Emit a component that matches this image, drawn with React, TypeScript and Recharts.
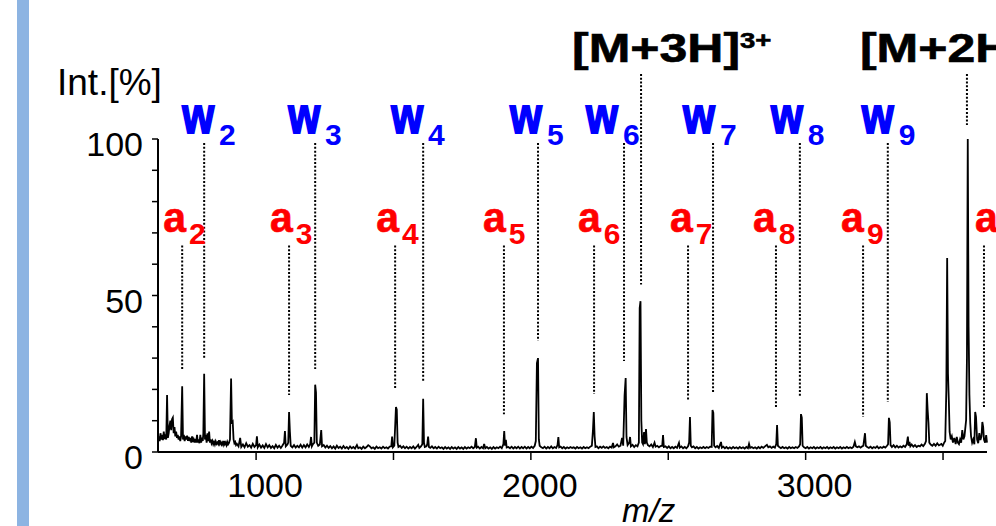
import { LineChart, Line, XAxis, YAxis, ReferenceLine, ReferenceDot } from "recharts";

const FONT = '"Liberation Sans", Arial, Helvetica, sans-serif';

// spectrum trace: [m/z, intensity %]
const traceLow: [number, number][] = [
  [643, 3], [646, 5], [649, 3.5], [652, 6], [655, 4], [658, 5.5], [661, 3.8], [664, 6.5], [667, 4.2], [670, 5],
  [673, 4], [676, 18.2], [679, 4.5], [682, 6], [685, 8.5], [688, 10], [691, 7], [694, 10.5], [697, 11], [700, 6],
  [703, 8], [706, 5], [709, 6.5], [712, 4.5], [715, 5.5], [718, 4], [721, 5], [724, 3.5], [727, 5], [731, 21],
  [734, 4], [737, 5.5], [740, 3.5], [743, 5], [746, 4], [749, 5.2], [752, 3.6], [755, 4.8], [758, 3.5], [761, 4.5],
  [764, 3], [767, 5], [770, 3.2], [773, 4], [776, 3], [779, 4.2], [782, 3], [785, 5.5], [788, 3], [791, 4],
  [794, 2.8], [797, 5.5], [800, 3], [803, 4.6], [806, 3.5], [808, 6], [811, 25], [814, 4], [817, 5.5], [820, 3],
  [823, 6], [826, 3.5], [829, 6.5], [832, 3], [835, 4], [838, 2.8], [841, 3.5], [844, 2.5], [847, 3.2], [850, 2.4],
  [853, 3.4], [856, 2.6], [859, 3], [862, 2.5], [865, 3.8], [868, 2.6], [871, 3.2], [874, 2.4], [877, 3], [880, 2.3],
  [883, 3.5], [886, 2.5], [889, 3], [892, 2.2], [895, 3.2], [898, 2.4], [901, 2.8], [905, 4], [909, 23.5], [912, 9],
  [915, 9.5], [918, 4], [921, 2.8], [924, 3.2], [927, 2.2], [930, 2.6], [936, 1.8], [942, 4.5], [946, 1.6], [952, 2.4],
  [958, 1.5], [964, 2.8], [970, 1.7], [976, 2.2], [982, 1.4], [988, 2.6], [994, 1.6], [1000, 2.2], [1003, 5], [1006, 1.5],
  [1012, 2.4], [1018, 1.4], [1024, 2.1], [1030, 1.3], [1036, 2.5], [1042, 1.5], [1048, 2.2], [1054, 1.3], [1060, 1.9], [1066, 1.2],
  [1072, 2.3], [1078, 1.4], [1084, 2], [1090, 1.3], [1096, 2.1], [1102, 3], [1105, 6.7], [1108, 1.8], [1114, 2.4], [1117, 3],
  [1120, 12.8], [1123, 6.5], [1126, 2], [1132, 1.5], [1138, 2.2], [1144, 1.4], [1150, 2], [1156, 1.5], [1162, 2.3], [1168, 1.4],
  [1174, 2.2], [1180, 1.5], [1186, 2.4], [1192, 1.6], [1197, 2.5], [1200, 4.8], [1203, 1.8], [1207, 2.5], [1212, 3], [1215, 21.5],
  [1218, 19], [1221, 3], [1226, 2], [1232, 2.4], [1237, 7], [1240, 1.8], [1246, 2.2], [1252, 1.4], [1258, 2],
];

const traceMid: [number, number][] = [
  [1264, 1.3], [1270, 1.9], [1276, 1.2], [1282, 1.8], [1288, 1.1], [1294, 2], [1300, 1.3], [1306, 1.7], [1312, 1.1], [1318, 1.9],
  [1324, 1.2], [1330, 1.6], [1336, 1], [1342, 1.8], [1348, 1.2], [1354, 1.6], [1360, 1.1], [1367, 2.2], [1372, 1.2], [1378, 1.5],
  [1384, 1], [1390, 1.7], [1396, 1.2], [1402, 1.6], [1408, 2.2], [1414, 1.8], [1420, 1.2], [1426, 1.5], [1432, 1], [1438, 1.7],
  [1444, 1.2], [1450, 1.5], [1456, 1.1], [1462, 1.7], [1468, 1.2], [1474, 1.5], [1480, 1.1], [1486, 1.7], [1492, 1.8], [1495, 4.9],
  [1498, 1.5], [1503, 2], [1506, 8], [1509, 14.4], [1512, 13.5], [1515, 3], [1518, 1.6], [1524, 2], [1530, 1.3], [1536, 1.8],
  [1542, 1.2], [1548, 1.7], [1554, 1.1], [1560, 1.6], [1566, 1.2], [1572, 1.8], [1578, 1.1], [1584, 1.6], [1590, 2.3], [1594, 1.3],
  [1600, 1.8], [1605, 2.5], [1608, 17], [1611, 3], [1614, 1.6], [1620, 1.8], [1623, 2.5], [1626, 4.9], [1629, 1.6], [1634, 1.3],
  [1640, 1.8], [1646, 1.2], [1652, 1.6], [1658, 1.1], [1664, 1.7], [1670, 1.2], [1676, 1.5], [1682, 1], [1688, 1.6], [1694, 1.1],
  [1700, 1.5], [1706, 1], [1712, 1.6], [1718, 1.1], [1724, 1.5], [1730, 1], [1736, 1.6], [1742, 1.1], [1748, 1.5], [1754, 1],
  [1760, 1.6], [1766, 1.1], [1772, 1.5], [1778, 1.2], [1784, 1.7], [1790, 1.2], [1796, 1.6], [1800, 4.4], [1803, 1.4], [1808, 1.7],
  [1814, 1.1], [1820, 1.6], [1826, 1.2], [1830, 2.6], [1834, 1.2], [1840, 1.6], [1846, 1.1], [1852, 1.5], [1858, 1], [1864, 1.6],
  [1870, 1.1], [1876, 1.5], [1882, 1.2], [1888, 1.7], [1894, 1.2], [1900, 2.5], [1903, 6.7], [1906, 2], [1909, 3.9], [1912, 1.4],
  [1918, 1.6], [1924, 1.2], [1930, 1.7], [1936, 1.1], [1942, 1.6], [1948, 1.2], [1954, 1.7], [1960, 1.1], [1966, 1.6], [1972, 1.2],
  [1978, 1.7], [1984, 1.1], [1990, 1.6], [1996, 1.2], [2002, 1.7], [2008, 1.3], [2014, 2], [2018, 3.5], [2022, 28.4], [2026, 30],
  [2029, 4], [2032, 2], [2038, 1.5], [2044, 1.2], [2050, 1.7], [2056, 1.1], [2062, 1.6], [2068, 1.2], [2074, 1.8], [2080, 1.2],
  [2086, 1.6], [2092, 1.3], [2097, 2.2], [2100, 4.8], [2103, 1.5], [2108, 1.7], [2114, 1.2], [2120, 1.6], [2126, 1.1], [2132, 1.5],
  [2138, 1.2], [2144, 1.6], [2150, 1.3], [2156, 1.5], [2162, 1.1], [2168, 1.6], [2174, 1.2], [2180, 1.5], [2186, 1.1], [2192, 1.6],
  [2198, 1.2], [2204, 1.5], [2210, 1.2], [2216, 1.7], [2222, 2], [2226, 7], [2229, 12.8], [2232, 5], [2235, 1.6], [2240, 1.8],
  [2246, 1.2], [2252, 1.7], [2258, 1.3], [2264, 1.8], [2270, 1.3], [2276, 1.6], [2282, 1.2], [2288, 1.7], [2294, 1.4], [2299, 2.9],
  [2302, 1.5], [2308, 1.8], [2314, 2.4], [2320, 1.7], [2326, 2], [2332, 4.5], [2336, 2], [2341, 18], [2345, 23.6], [2348, 4.8],
  [2352, 2.2], [2358, 3], [2361, 4.8], [2364, 1.8], [2370, 2.3], [2376, 1.6], [2382, 2.2], [2388, 1.8], [2393, 3], [2396, 46],
  [2399, 48.2], [2402, 10], [2405, 3], [2408, 2.5], [2412, 6.4], [2415, 2.5], [2419, 7.3], [2422, 3], [2426, 2.2], [2432, 1.8],
  [2438, 2.4], [2444, 1.6], [2450, 3], [2454, 1.7], [2460, 2], [2466, 1.5], [2472, 1.9], [2478, 2], [2481, 5.4], [2484, 1.6],
  [2490, 1.8],
];

const traceHigh: [number, number][] = [
  [2496, 1.3], [2502, 1.8], [2508, 1.2], [2514, 1.6], [2520, 1.2], [2526, 1.7], [2532, 1.3], [2539, 2.9], [2542, 1.4], [2548, 1.8],
  [2554, 1.2], [2560, 1.6], [2566, 1.2], [2572, 1.8], [2576, 3], [2579, 11.2], [2582, 2], [2586, 1.5], [2592, 1.8], [2598, 1.2],
  [2604, 1.6], [2610, 1.1], [2616, 1.5], [2622, 1.2], [2628, 1.6], [2634, 1.2], [2640, 1.6], [2646, 1.3], [2652, 1.7], [2658, 1.6],
  [2661, 13.4], [2664, 12.5], [2667, 2], [2672, 1.5], [2678, 1.9], [2684, 1.3], [2692, 3.2], [2695, 1.4], [2700, 1.7], [2706, 1.2],
  [2712, 1.6], [2718, 1.1], [2724, 1.5], [2730, 1.1], [2736, 1.6], [2742, 1.2], [2748, 1.5], [2754, 1.1], [2760, 1.6], [2766, 1.2],
  [2772, 1.5], [2778, 1.1], [2784, 1.6], [2790, 1.2], [2794, 2.6], [2798, 1.3], [2804, 1.6], [2810, 1.2], [2816, 1.5], [2822, 1.1],
  [2828, 1.6], [2834, 1.2], [2840, 1.7], [2846, 1.3], [2852, 1.8], [2859, 2.3], [2864, 1.5], [2870, 1.8], [2876, 1.3], [2882, 1.7],
  [2888, 1.4], [2893, 2.5], [2896, 8.6], [2899, 2], [2904, 1.6], [2910, 1.2], [2916, 1.6], [2922, 1.2], [2928, 1.5], [2934, 1.1],
  [2940, 1.6], [2946, 1.2], [2952, 1.5], [2958, 1.2], [2964, 1.6], [2970, 1.3], [2976, 1.8], [2980, 2.5], [2983, 12.1], [2986, 11],
  [2989, 2], [2994, 1.5], [3000, 1.2], [3006, 1.6], [3012, 1.1], [3018, 1.5], [3024, 1.2], [3030, 1.6], [3036, 1.1], [3042, 1.5],
  [3048, 1.2], [3054, 1.6], [3060, 1.1], [3066, 1.5], [3072, 1.2], [3078, 1.6], [3084, 1.1], [3090, 1.5], [3096, 1.2], [3102, 1.6],
  [3108, 1.1], [3114, 1.5], [3120, 1.2], [3126, 1.6], [3132, 1.1], [3138, 1.5], [3144, 1.2], [3150, 1.6], [3156, 1.2], [3162, 1.5],
  [3168, 1.2], [3174, 1.7], [3179, 3.2], [3183, 1.8], [3188, 1.5], [3194, 1.8], [3200, 1.4], [3206, 1.8], [3210, 2], [3213, 4],
  [3216, 6], [3219, 2], [3224, 1.6], [3230, 1.3], [3236, 1.7], [3242, 1.2], [3248, 1.6], [3254, 1.3], [3260, 1.8], [3266, 1.2],
  [3272, 1.6], [3278, 1.3], [3284, 1.7], [3290, 1.4], [3296, 2], [3300, 2.5], [3303, 10.9], [3306, 9.5], [3309, 2.2], [3314, 1.6],
  [3320, 2.2], [3326, 1.5], [3332, 2], [3338, 1.4], [3344, 1.8], [3350, 1.5], [3356, 2], [3362, 1.6], [3368, 2.5], [3372, 4.9],
  [3375, 2], [3378, 3.2], [3381, 1.8], [3386, 2.4], [3392, 1.7], [3398, 2.2], [3404, 1.6], [3410, 2], [3416, 1.8], [3422, 2.4],
  [3428, 1.9], [3434, 2.6], [3438, 3.5], [3441, 18.8], [3444, 13.4], [3447, 9.3], [3450, 3], [3455, 2.4], [3461, 2], [3467, 2.6],
  [3473, 2], [3479, 2.8], [3485, 2.1], [3489, 2.3], [3494, 2.6], [3499, 2], [3504, 3], [3508, 3.5], [3512, 20], [3515, 62],
  [3518, 25], [3521, 16.6], [3524, 6.4], [3528, 4], [3532, 5], [3536, 3], [3541, 4.5], [3546, 2.5], [3550, 4.8], [3554, 3],
  [3558, 2.5], [3562, 4], [3566, 3], [3570, 7], [3574, 4], [3578, 5], [3584, 10.2], [3587, 30], [3590, 100], [3593, 40],
  [3596, 18.2], [3599, 9.3], [3602, 5], [3606, 3], [3610, 4], [3614, 2.5], [3617, 12.8], [3620, 11.2], [3624, 4], [3628, 2.8],
  [3632, 6], [3636, 3.8], [3640, 5], [3643, 9.6], [3646, 8], [3649, 4], [3653, 3], [3657, 5.4], [3660, 3],
];

// fragment ions
const wNumbers = ["2", "3", "4", "5", "6", "7", "8", "9"];
const wMz = [811, 1215, 1608, 2026, 2339, 2663, 2979, 3299];
const wPeaks = [25.5, 22, 18, 31, 24.6, 14.3, 13, 11.5];

const aNumbers = ["2", "3", "4", "5", "6", "7", "8", "9", "10"];
const aMz = [731, 1120, 1506, 1902, 2230, 2572, 2892, 3209, 3649];
const aPeaks = [22, 13.7, 15.6, 7.6, 14, 12, 9.5, 6.7, 9.6];

const parentNames = ["[M+3H]", "[M+2H]"];
const parentCharges = ["3+", "2+"];
const parentMz = [2401, 3587];
const parentPeaks = [49, 100];

const xTicks = [1000, 1500, 2000, 2500, 3000, 3500];
const xTickLabels = ["1000", "", "2000", "", "3000", ""];
const yTicks = [0, 10, 20, 30, 40, 50, 60, 70, 80, 90, 100];
const yTickLabels = ["0", "", "", "", "", "50", "", "", "", "", "100"];

// layout of the annotation rows (in intensity units) and label nudges (px)
const W_TOP = 98.7;
const A_TOP = 66;
const ION_TOP = 120.8;
const GAP = 4.5;
const wShift = [-22, -27, -32, -28, -38, -30, -29, -26];
const aShift = [-19, -19, -19, -21, -16, -18, -23, -22, -9];
const ionShift = [-69, -107];

const spectrum = [...traceLow, ...traceMid, ...traceHigh].map(([mz, i]) => ({ mz, i }));

type Ion = { letter: string; sub: string; mz: number; peak: number; top: number; shift: number; color: string };

const ions: Ion[] = [
  ...wMz.map((mz, k) => ({ letter: "w", sub: wNumbers[k], mz, peak: wPeaks[k], top: W_TOP, shift: wShift[k], color: "#0000ff" })),
  ...aMz.map((mz, k) => ({ letter: "a", sub: aNumbers[k], mz, peak: aPeaks[k], top: A_TOP, shift: aShift[k], color: "#ff0000" })),
];

function IonLabel({ cx, cy, ion }: { cx: number; cy: number; ion: Ion }) {
  const isW = ion.letter === "w";
  const x = cx + ion.shift;
  const base = cy + (isW ? -10 : -13.5);
  const adv = isW ? 31.9 + 5 : 22.8 + 3;
  return (
    <g>
      <text
        transform={`translate(${x},${base}) scale(1,${isW ? 1.22 : 1.06})`}
        fontSize={41}
        fontWeight={700}
        fill={ion.color}
        stroke={ion.color}
        strokeWidth={isW ? 1.6 : 0.6}
        fontFamily={FONT}
      >
        {ion.letter}
      </text>
      <text x={x + adv} y={base + 12} fontSize={30} fontWeight={700} fill={ion.color} fontFamily={FONT}>
        {ion.sub}
      </text>
    </g>
  );
}

function ParentLabel({ cx, cy, k }: { cx: number; cy: number; k: number }) {
  return (
    <text
      transform={`translate(${cx + ionShift[k]},${cy - 12}) scale(1.25,1)`}
      fontSize={40}
      fontWeight={700}
      fill="#000"
      stroke="#000"
      strokeWidth={0.6}
      fontFamily={FONT}
    >
      {parentNames[k]}
      <tspan fontSize={22} dy={-14}>
        {parentCharges[k]}
      </tspan>
    </text>
  );
}

function XTick(p: any) {
  const label = xTickLabels[xTicks.indexOf(p.payload.value)];
  if (!label) return <g />;
  return (
    <text x={p.x + 9} y={p.y + 35} textAnchor="middle" fontSize={34} fill="#000" fontFamily={FONT}>
      {label}
    </text>
  );
}

function YTick(p: any) {
  const label = yTickLabels[yTicks.indexOf(p.payload.value)];
  if (!label) return <g />;
  return (
    <text x={p.x} y={p.y + 17} textAnchor="end" fontSize={34} fill="#000" fontFamily={FONT}>
      {label}
    </text>
  );
}

export default function App() {
  return (
    <div style={{ position: "fixed", left: 0, top: 0, width: 996, height: 526, overflow: "hidden", background: "#fff" }}>
      <div style={{ position: "absolute", left: 17, top: 0, width: 12, height: 526, background: "#8db4e2" }} />
      <div style={{ position: "absolute", left: 0, top: 0 }}>
        <LineChart width={996} height={526} data={spectrum} margin={{ top: 139, right: 9, bottom: 0, left: 0 }}>
          <XAxis
            dataKey="mz"
            type="number"
            domain={[643, 3660]}
            ticks={xTicks}
            interval={0}
            height={74}
            tickSize={8}
            axisLine={{ stroke: "#000", strokeWidth: 2 }}
            tickLine={{ stroke: "#000", strokeWidth: 1.5 }}
            tick={XTick}
          />
          <YAxis
            domain={[0, 100]}
            ticks={yTicks}
            interval={0}
            width={158}
            tickSize={6}
            tickMargin={9}
            axisLine={{ stroke: "#000", strokeWidth: 2 }}
            tickLine={{ stroke: "#000", strokeWidth: 1.5 }}
            tick={YTick}
          />
          <Line dataKey="i" type="linear" stroke="#000" strokeWidth={1.8} dot={false} isAnimationActive={false} />
          {ions.map((ion) => (
            <ReferenceLine
              key={`l-${ion.letter}${ion.sub}`}
              segment={[
                { x: ion.mz, y: ion.top },
                { x: ion.mz, y: ion.peak + GAP },
              ]}
              stroke="#000"
              strokeWidth={2}
              strokeDasharray="2 1.8"
              ifOverflow="visible"
            />
          ))}
          {ions.map((ion) => (
            <ReferenceDot
              key={`d-${ion.letter}${ion.sub}`}
              x={ion.mz}
              y={ion.top}
              r={0}
              ifOverflow="visible"
              shape={(p: any) => <IonLabel cx={p.cx} cy={p.cy} ion={ion} />}
            />
          ))}
          {parentMz.map((mz, k) => (
            <ReferenceLine
              key={`pl-${k}`}
              segment={[
                { x: mz, y: ION_TOP },
                { x: mz, y: parentPeaks[k] + GAP },
              ]}
              stroke="#000"
              strokeWidth={2}
              strokeDasharray="2 1.8"
              ifOverflow="visible"
            />
          ))}
          {parentMz.map((mz, k) => (
            <ReferenceDot
              key={`pd-${k}`}
              x={mz}
              y={ION_TOP}
              r={0}
              ifOverflow="visible"
              shape={(p: any) => <ParentLabel cx={p.cx} cy={p.cy} k={k} />}
            />
          ))}
        </LineChart>
      </div>
      <svg width={996} height={526} style={{ position: "absolute", left: 0, top: 0, pointerEvents: "none" }}>
        <text x={57} y={95} fontSize={37} fill="#000" fontFamily={FONT}>
          Int.[%]
        </text>
        <text x={622} y={522} fontSize={33} fontStyle="italic" fill="#000" fontFamily={FONT}>
          m/z
        </text>
      </svg>
    </div>
  );
}
